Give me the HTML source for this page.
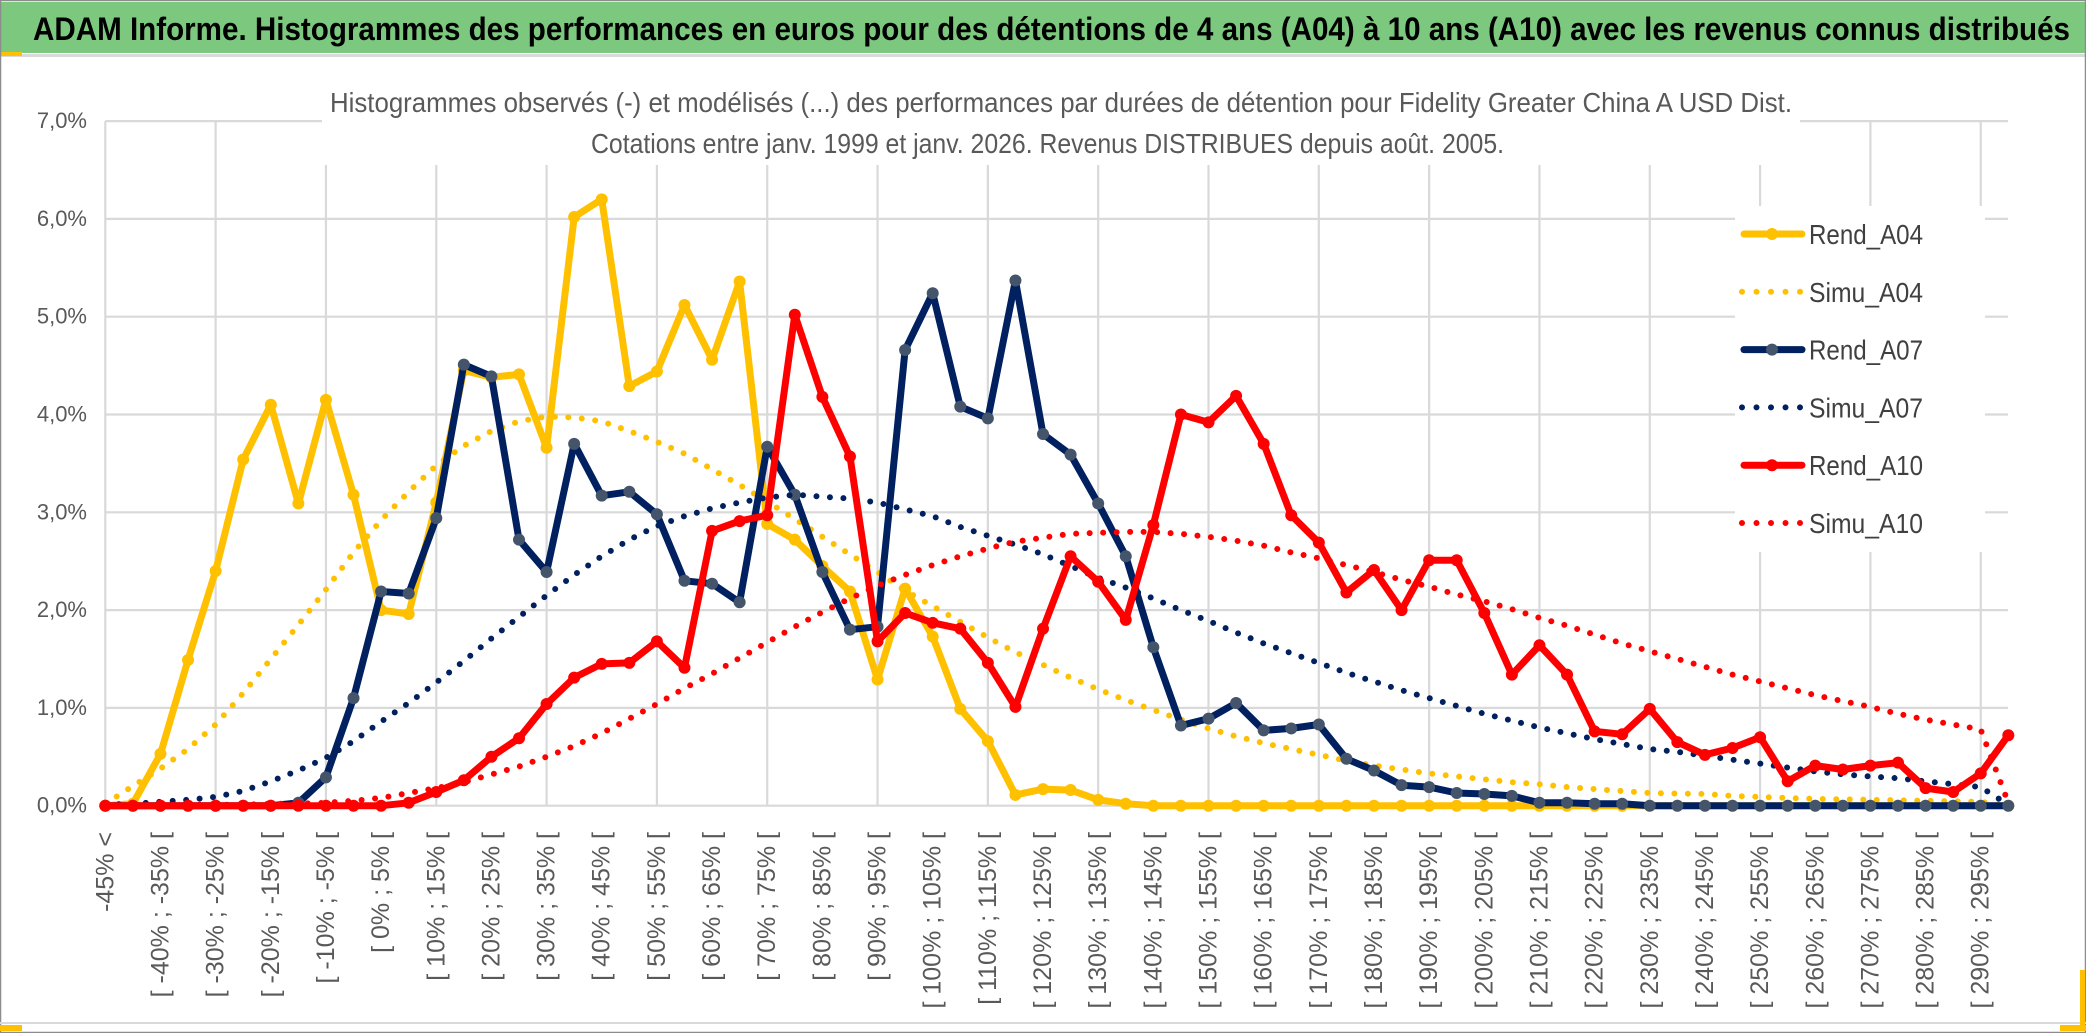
<!DOCTYPE html>
<html><head><meta charset="utf-8"><style>
html,body{margin:0;padding:0;background:#fff;}
svg{display:block;}
text{font-family:"Liberation Sans",sans-serif;}
</style></head><body>
<svg id="chart" width="2086" height="1033" viewBox="0 0 2086 1033" xmlns="http://www.w3.org/2000/svg">
<rect x="0" y="0" width="2086" height="1033" fill="#fff"/>
<rect x="1" y="2" width="2084" height="51" fill="#7dc87f"/>
<rect x="0" y="54" width="2086" height="3" fill="#d9d9d9"/>
<rect x="0" y="52" width="22" height="4" fill="#ffc000"/>
<text x="33" y="40" font-size="32" font-weight="bold" fill="#000" textLength="2037" lengthAdjust="spacingAndGlyphs">ADAM Informe. Histogrammes des performances en euros pour des détentions de 4 ans (A04) à 10 ans (A10) avec les revenus connus distribués</text>
<g id="grid"></g>
<rect x="322" y="115" width="1478" height="50" fill="#fff"/>
<text x="330" y="112" font-size="28" fill="#595959" textLength="1462" lengthAdjust="spacingAndGlyphs">Histogrammes observés (-) et modélisés (...) des performances par durées de détention pour Fidelity Greater China A USD Dist.</text>
<text x="591" y="153" font-size="28" fill="#595959" textLength="913" lengthAdjust="spacingAndGlyphs">Cotations entre janv. 1999 et janv. 2026. Revenus DISTRIBUES depuis août. 2005.</text>
<g id="yaxis"></g>
<g id="xaxis"></g>
<g id="series"></g>
<g id="legend"></g>
<rect x="0.5" y="0.5" width="2085" height="1032" fill="none" stroke="#8c8c8c" stroke-width="1.5"/>
<line x1="0" y1="1023" x2="2086" y2="1023" stroke="#d9d9d9" stroke-width="2"/>
<rect x="0" y="1025" width="22" height="6" fill="#ffc000"/>
<rect x="2060" y="1025" width="26" height="6" fill="#ffc000"/>
<rect x="2080" y="970" width="5" height="60" fill="#ffc000"/>
</svg>
<script>
const rendA04 = [0,0.02,0.53,1.49,2.4,3.54,4.1,3.09,4.15,3.18,2.0,1.96,3.1,4.45,4.38,4.41,3.66,6.02,6.2,4.29,4.44,5.12,4.56,5.36,2.88,2.72,2.45,2.19,1.29,2.22,1.73,0.99,0.66,0.11,0.17,0.16,0.06,0.02,0,0,0,0,0,0,0,0,0,0,0,0,0,0,0,0,0,0,0,0,0,0,0,0,0,0,0,0,0,0,0,0];
const simuA04 = [0.02,0.2,0.38,0.58,0.83,1.15,1.5,1.85,2.21,2.59,2.92,3.21,3.48,3.68,3.83,3.93,3.98,3.97,3.93,3.83,3.72,3.6,3.44,3.28,3.11,2.93,2.75,2.57,2.39,2.2,2.04,1.88,1.72,1.57,1.44,1.31,1.19,1.08,0.98,0.88,0.79,0.71,0.64,0.58,0.52,0.46,0.41,0.37,0.33,0.3,0.27,0.24,0.22,0.19,0.17,0.15,0.13,0.125,0.12,0.1,0.09,0.08,0.07,0.065,0.06,0.055,0.05,0.045,0.04,0.0];
const rendA07 = [0,0,0,0,0,0,0,0.03,0.29,1.1,2.19,2.17,2.94,4.51,4.39,2.72,2.39,3.7,3.17,3.21,2.98,2.3,2.27,2.08,3.67,3.18,2.39,1.8,1.83,4.66,5.24,4.08,3.96,5.37,3.8,3.59,3.09,2.55,1.62,0.82,0.89,1.05,0.77,0.79,0.83,0.48,0.36,0.21,0.19,0.13,0.12,0.1,0.03,0.03,0.02,0.02,0,0,0,0,0,0,0,0,0,0,0,0,0,0];
const simuA07 = [0.01,0.02,0.04,0.06,0.09,0.15,0.25,0.36,0.49,0.66,0.86,1.05,1.26,1.48,1.71,1.93,2.15,2.36,2.55,2.72,2.86,2.96,3.04,3.1,3.15,3.18,3.16,3.14,3.1,3.03,2.96,2.85,2.76,2.67,2.57,2.45,2.33,2.23,2.12,2.0,1.89,1.77,1.66,1.56,1.46,1.36,1.27,1.18,1.1,1.02,0.94,0.87,0.8,0.74,0.68,0.63,0.58,0.55,0.51,0.47,0.43,0.39,0.35,0.32,0.3,0.28,0.25,0.22,0.19,0.01];
const rendA10 = [0,0,0,0,0,0,0,0,0,0,0,0.03,0.14,0.26,0.5,0.69,1.04,1.31,1.45,1.46,1.68,1.41,2.81,2.91,2.97,5.02,4.18,3.57,1.68,1.97,1.87,1.81,1.46,1.01,1.81,2.55,2.29,1.9,2.87,4.0,3.92,4.19,3.7,2.97,2.69,2.18,2.41,2.0,2.51,2.51,1.97,1.34,1.64,1.34,0.76,0.73,0.99,0.65,0.52,0.59,0.7,0.25,0.41,0.37,0.41,0.44,0.18,0.14,0.33,0.72];
const simuA10 = [0,0,0.01,0.01,0.01,0.01,0.02,0.02,0.03,0.05,0.08,0.13,0.18,0.24,0.32,0.4,0.5,0.61,0.74,0.89,1.04,1.2,1.35,1.51,1.67,1.83,1.98,2.12,2.25,2.36,2.46,2.55,2.63,2.7,2.74,2.78,2.79,2.8,2.8,2.78,2.75,2.71,2.66,2.59,2.53,2.46,2.39,2.31,2.24,2.16,2.09,2.01,1.92,1.84,1.75,1.66,1.58,1.5,1.42,1.34,1.27,1.2,1.13,1.07,1.01,0.94,0.88,0.83,0.78,0.03];
const yTicks = ["0,0%","1,0%","2,0%","3,0%","4,0%","5,0%","6,0%","7,0%"];
const yTickValues = [0,1,2,3,4,5,6,7];
const binLowers = [];
for (let b = -45; b <= 295; b += 5) binLowers.push(b);
const categories = ["-45% <"].concat(binLowers.map(b => "[ " + b + "% ; " + (b + 5) + "% ["));

const NS = "http://www.w3.org/2000/svg";
const X0 = 105.3, DX = 27.58, Y0 = 805.7, DY = 97.8, XR = 2008;
function xs(i){ return X0 + i * DX; }
function ys(v){ return Y0 - v * DY; }
function mk(tag, attrs, parent){
  const e = document.createElementNS(NS, tag);
  for (const k in attrs) e.setAttribute(k, attrs[k]);
  parent.appendChild(e);
  return e;
}
const grid = document.getElementById('grid');
yTickValues.forEach((v) => {
  const l = mk('line', {x1: X0, x2: XR, y1: ys(v), y2: ys(v), stroke: '#d9d9d9', 'stroke-width': 2.2}, grid);
  
  
});
for (let i = 0; i < categories.length; i += 4) {
  const l = mk('line', {x1: xs(i), x2: xs(i), y1: ys(7), y2: ys(0), stroke: '#d9d9d9', 'stroke-width': 2.2}, grid);
  
  
}
const legMask = mk('rect', {x: 1735, y: 206, width: 250, height: 346, fill: '#fff'}, grid);



const yaxis = document.getElementById('yaxis');
yTickValues.forEach((v, k) => {
  const t = mk('text', {x: 87, y: ys(v) + 7, 'font-size': 22, fill: '#595959', 'text-anchor': 'end'}, yaxis);
  
  
  t.textContent = yTicks[k];
});
const xaxis = document.getElementById('xaxis');
for (let i = 0; i < categories.length; i += 2) {
  const x = xs(i) + 8, y = 832;
  const t = mk('text', {x: x, y: y, 'font-size': 25, fill: '#595959', 'text-anchor': 'end', transform: 'rotate(-90 ' + x + ' ' + y + ')'}, xaxis);
  
  
  t.textContent = categories[i];
}

const series = document.getElementById('series');
function pts(arr){ return arr.map((v, i) => xs(i).toFixed(1) + ',' + ys(v).toFixed(1)).join(' '); }
function drawRend(arr, color, mcolor, name){
  const g = mk('g', {}, series);
  
  
  const p = mk('polyline', {points: pts(arr), fill: 'none', stroke: color, 'stroke-width': 7, 'stroke-linejoin': 'round', 'stroke-linecap': 'round'}, g);
  
  
  arr.forEach((v, i) => {
    const c = mk('circle', {cx: xs(i), cy: ys(v), r: 6, fill: mcolor}, g);
    
    
  });
}
function drawSimu(arr, color, name){
  const p = mk('polyline', {points: pts(arr), fill: 'none', stroke: color, 'stroke-width': 6, 'stroke-linecap': 'round', 'stroke-dasharray': '0 13.5'}, series);
  
  
}
drawRend(rendA04, '#ffc000', '#ffc000', 'rend-a04');
drawSimu(simuA04, '#ffc000', 'simu-a04');
drawRend(rendA07, '#002060', '#44546a', 'rend-a07');
drawSimu(simuA07, '#002060', 'simu-a07');
drawRend(rendA10, '#ff0000', '#ff0000', 'rend-a10');
drawSimu(simuA10, '#ff0000', 'simu-a10');

const legend = document.getElementById('legend');
const legItems = [
  ['Rend_A04', '#ffc000', '#ffc000', false],
  ['Simu_A04', '#ffc000', null, true],
  ['Rend_A07', '#002060', '#44546a', false],
  ['Simu_A07', '#002060', null, true],
  ['Rend_A10', '#ff0000', '#ff0000', false],
  ['Simu_A10', '#ff0000', null, true]
];
legItems.forEach((it, k) => {
  const y = 234 + k * 57.8;
  const g = mk('g', {}, legend);
  
  
  if (it[3]) {
    mk('line', {x1: 1742, x2: 1803, y1: y, y2: y, stroke: it[1], 'stroke-width': 6, 'stroke-linecap': 'round', 'stroke-dasharray': '0 14.5'}, g);
  } else {
    mk('line', {x1: 1744, x2: 1802, y1: y, y2: y, stroke: it[1], 'stroke-width': 7, 'stroke-linecap': 'round'}, g);
    mk('circle', {cx: 1772, cy: y, r: 6, fill: it[2]}, g);
  }
  const t = mk('text', {x: 1809, y: y + 10, 'font-size': 28, fill: '#404040', textLength: 114, lengthAdjust: 'spacingAndGlyphs'}, g);
  
  
  t.textContent = it[0];
});
</script>
</body></html>
